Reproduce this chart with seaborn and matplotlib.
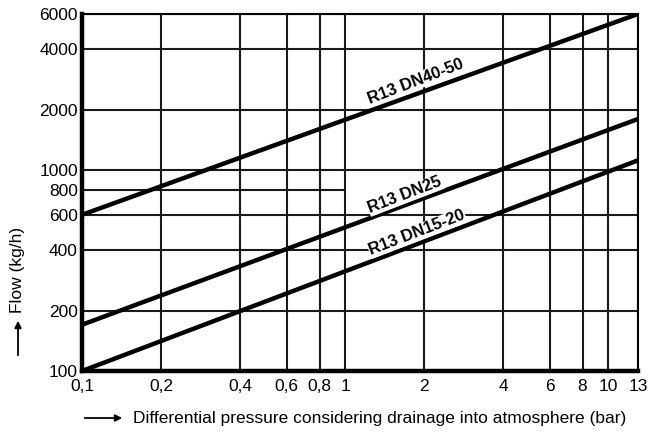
import matplotlib
matplotlib.use("Agg")
import matplotlib.pyplot as plt
import numpy as np
import pandas as pd
import seaborn as sns

# data
PRESSURE = [0.1, 13]
FLOW_DN40_50 = [600, 6000]
FLOW_DN25 = [170, 1800]
FLOW_DN15_20 = [100, 1120]
SERIES = ["R13 DN40-50", "R13 DN25", "R13 DN15-20"]

X_TICKS = [0.1, 0.2, 0.4, 0.6, 0.8, 1, 2, 4, 6, 8, 10, 13]
X_LABELS = ["0,1", "0,2", "0,4", "0,6", "0,8", "1", "2", "4", "6", "8", "10", "13"]
Y_TICKS = [100, 200, 400, 600, 800, 1000, 2000, 4000, 6000]
Y_LABELS = ["100", "200", "400", "600", "800", "1000", "2000", "4000", "6000"]

# label anchor points (data coords) for the curve names
LABEL_X = [1.85, 1.69, 1.88]
LABEL_Y = [2760, 752, 487]

DATA = pd.DataFrame(
    {
        "pressure": PRESSURE * 3,
        "flow": FLOW_DN40_50 + FLOW_DN25 + FLOW_DN15_20,
        "series": [s for s in SERIES for _ in PRESSURE],
    }
)

sns.set_style("white")
plt.rcParams["font.family"] = ["Liberation Sans", "DejaVu Sans"]
plt.rcParams["text.color"] = "black"
plt.rcParams["xtick.color"] = "black"
plt.rcParams["ytick.color"] = "black"

fig = plt.figure(figsize=(6.49, 4.34), dpi=100)
ax = fig.add_axes([82 / 649, 63 / 434, 556 / 649, 357 / 434])
ax.set_xscale("log")
ax.set_yscale("log")

# grid (the 800 line only runs up to 1 bar)
for xv in X_TICKS:
    ax.axvline(xv, color="#1a1a1a", lw=1.5, zorder=1)
for yv in Y_TICKS:
    if yv == 800:
        ax.hlines(yv, X_TICKS[0], 1, color="#1a1a1a", lw=1.5, zorder=1)
    else:
        ax.axhline(yv, color="#1a1a1a", lw=1.5, zorder=1)

sns.lineplot(
    data=DATA,
    x="pressure",
    y="flow",
    hue="series",
    palette=["black"] * 3,
    linewidth=3.2,
    legend=False,
    ax=ax,
    zorder=3,
)

for name, lx, ly in zip(SERIES, LABEL_X, LABEL_Y):
    ax.text(
        lx, ly, name, rotation=21, ha="center", va="center",
        fontsize=12, fontweight="bold", color="black", zorder=4,
        bbox=dict(facecolor="white", edgecolor="none", pad=0.5),
    )

ax.set_xlim(0.1, 13)
ax.set_ylim(100, 6000)
ax.set_xticks(X_TICKS)
ax.set_xticklabels(X_LABELS)
ax.set_yticks(Y_TICKS)
ax.set_yticklabels(Y_LABELS)
ax.minorticks_off()
ax.tick_params(axis="both", length=0, labelsize=12.5, labelcolor="black")
ax.tick_params(axis="x", pad=6)
ax.tick_params(axis="y", pad=3)
ax.set_xlabel("")
ax.set_ylabel("")

for side in ["left", "bottom"]:
    ax.spines[side].set_linewidth(3.2)
for side in ["top", "right"]:
    ax.spines[side].set_linewidth(1.5)
for sp in ax.spines.values():
    sp.set_color("black")
    sp.set_visible(True)

# axis titles with arrows
fig.text(133 / 649, 1 - 418 / 434, "Differential pressure considering drainage into atmosphere (bar)",
         ha="left", va="center", fontsize=12.5)
fig.text(18 / 649, 1 - 270 / 434, "Flow (kg/h)", rotation=90, ha="center", va="center", fontsize=12.5)
arrow = dict(arrowstyle="-|>", color="black", lw=1.3, mutation_scale=10)
ax.annotate("", xy=(125 / 649, 1 - 418 / 434), xytext=(82 / 649, 1 - 418 / 434),
            xycoords="figure fraction", textcoords="figure fraction", arrowprops=arrow)
ax.annotate("", xy=(18 / 649, 1 - 318 / 434), xytext=(18 / 649, 1 - 358 / 434),
            xycoords="figure fraction", textcoords="figure fraction", arrowprops=arrow)

fig.savefig("out.png", dpi=100)
